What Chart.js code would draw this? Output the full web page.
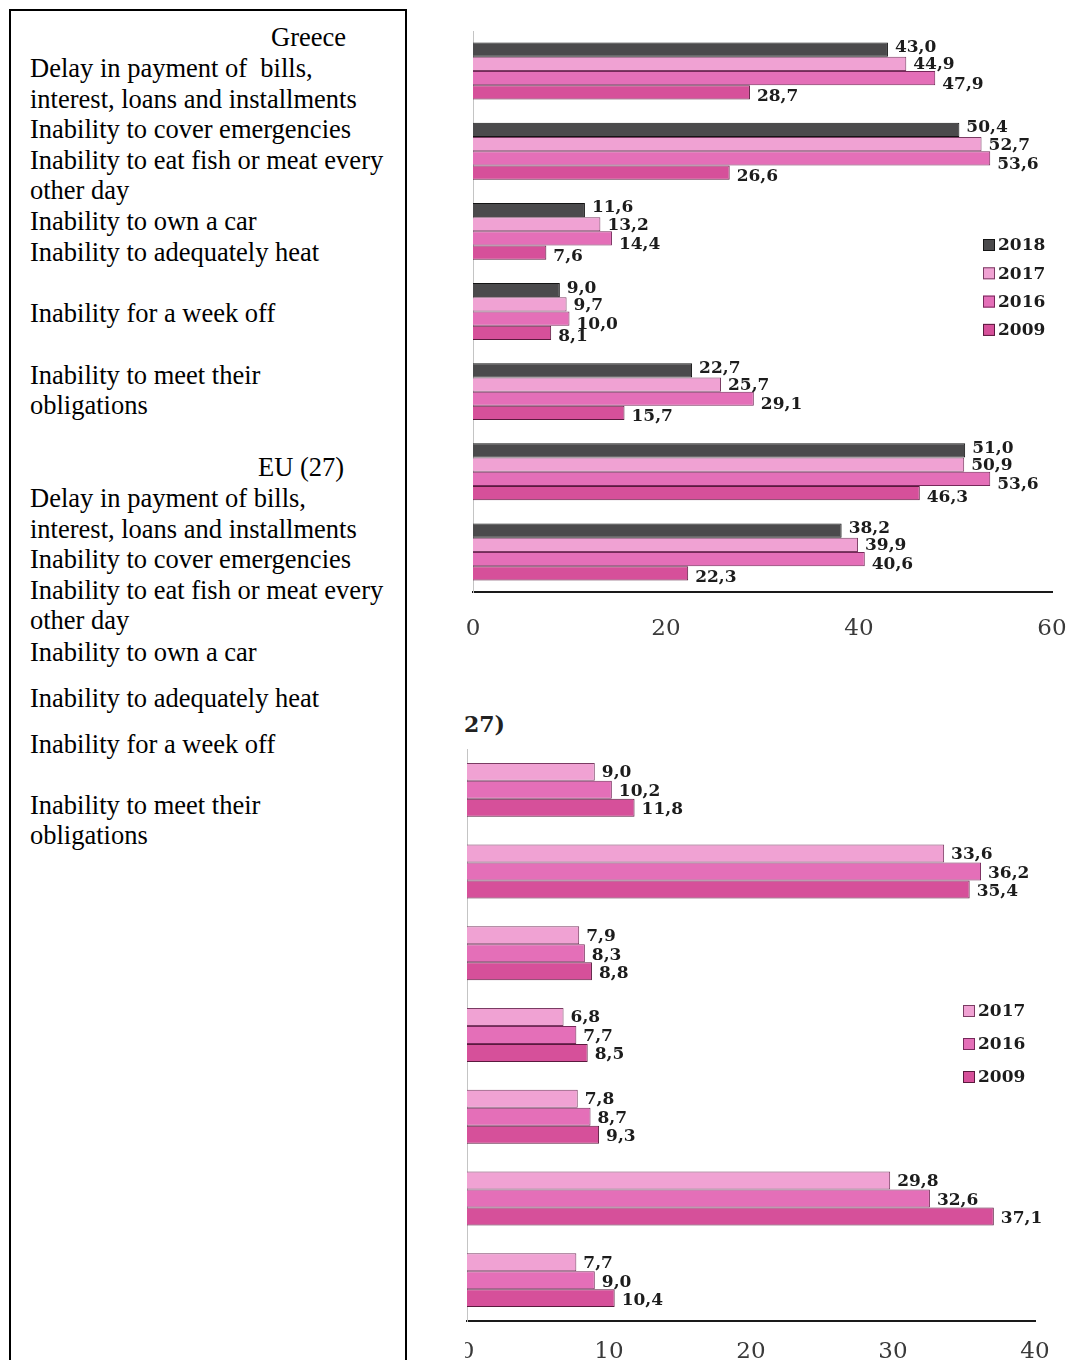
<!DOCTYPE html>
<html>
<head>
<meta charset="utf-8">
<script src="https://cdn.jsdelivr.net/npm/chart.js@4.4.0/dist/chart.umd.min.js"></script>
<style>
  html, body { margin: 0; padding: 0; background: #fff; }
  body { width: 1070px; height: 1360px; position: relative; overflow: hidden; }
  #notes {
    position: absolute; left: 9px; top: 9px; width: 394px; height: 1420px;
    border: 2px solid #000;
    font-family: "Liberation Serif", "Times New Roman", serif; font-size: 26.5px; color: #000;
  }
  #notes div { position: absolute; left: 19px; line-height: 0; white-space: pre; }
  #greece { position: absolute; left: 460px; top: 20px; }
  #euWrap { position: absolute; left: 465px; top: 740px; width: 605px; height: 621px; overflow: hidden; }
  #eu { position: absolute; left: -25px; top: 0; }
  #euTitle {
    position: absolute; left: 464px; top: 724px; line-height: 0;
    font-family: "DejaVu Serif", serif; font-weight: bold; font-size: 22px; color: #222;
  }
</style>
</head>
<body>
<div id="notes">
  <div style="top:26px; left:260px">Greece</div>
  <div style="top:57px">Delay in payment of  bills,</div>
  <div style="top:88px">interest, loans and installments</div>
  <div style="top:118px">Inability to cover emergencies</div>
  <div style="top:149px">Inability to eat fish or meat every</div>
  <div style="top:179px">other day</div>
  <div style="top:210px">Inability to own a car</div>
  <div style="top:241px">Inability to adequately heat</div>
  <div style="top:302px">Inability for a week off</div>
  <div style="top:364px">Inability to meet their</div>
  <div style="top:394px">obligations</div>

  <div style="top:456px; left:247px">EU (27)</div>
  <div style="top:487px">Delay in payment of bills,</div>
  <div style="top:518px">interest, loans and installments</div>
  <div style="top:548px">Inability to cover emergencies</div>
  <div style="top:579px">Inability to eat fish or meat every</div>
  <div style="top:609px">other day</div>
  <div style="top:641px">Inability to own a car</div>
  <div style="top:687px">Inability to adequately heat</div>
  <div style="top:733px">Inability for a week off</div>
  <div style="top:794px">Inability to meet their</div>
  <div style="top:824px">obligations</div>
</div>

<canvas id="greece" width="610" height="630"></canvas>
<div id="euTitle">27)</div>
<div id="euWrap"><canvas id="eu" width="630" height="621"></canvas></div>

<script>
const categories = [
  "Delay in payment of bills, interest, loans and installments",
  "Inability to cover emergencies",
  "Inability to eat fish or meat every other day",
  "Inability to own a car",
  "Inability to adequately heat",
  "Inability for a week off",
  "Inability to meet their obligations"
];

// Greece, % of households
const greece2018 = [43.0, 50.4, 11.6, 9.0, 22.7, 51.0, 38.2];
const greece2017 = [44.9, 52.7, 13.2, 9.7, 25.7, 50.9, 39.9];
const greece2016 = [47.9, 53.6, 14.4, 10.0, 29.1, 53.6, 40.6];
const greece2009 = [28.7, 26.6, 7.6, 8.1, 15.7, 46.3, 22.3];

// EU (27), % of households
const eu2017 = [9.0, 33.6, 7.9, 6.8, 7.8, 29.8, 7.7];
const eu2016 = [10.2, 36.2, 8.3, 7.7, 8.7, 32.6, 9.0];
const eu2009 = [11.8, 35.4, 8.8, 8.5, 9.3, 37.1, 10.4];

const greeceTicks = [0, 20, 40, 60];
const euTicks = [0, 10, 20, 30, 40];

const colors = {
  "2018": { bg: "#4b4a4c", border: "#141414" },
  "2017": { bg: "#f0a2d3", border: "#7a3c63" },
  "2016": { bg: "#e46fb8", border: "#76295a" },
  "2009": { bg: "#d6509a", border: "#5a1a3e" }
};

const serif = '"DejaVu Serif", serif';

function series(label, data) {
  return {
    label, data,
    backgroundColor: colors[label].bg,
    borderColor: colors[label].border,
    borderWidth: 1,
    borderSkipped: "start"
  };
}

// value next to the end of every bar, with a decimal comma
const valueLabels = {
  id: "valueLabels",
  afterDatasetsDraw(chart, args, opts) {
    const ctx = chart.ctx;
    const shift = opts.shift || [];
    ctx.save();
    ctx.font = "bold 17px " + serif;
    ctx.fillStyle = "#1c1c1c";
    ctx.textBaseline = "middle";
    chart.data.datasets.forEach((ds, i) => {
      chart.getDatasetMeta(i).data.forEach((bar, j) => {
        ctx.fillText(ds.data[j].toFixed(1).replace(".", ","), bar.x + 7, bar.y + 1 + (shift[i] || 0));
      });
    });
    ctx.restore();
  }
};

// small square legend sitting inside the plot area
const boxLegend = {
  id: "boxLegend",
  afterDraw(chart, args, opts) {
    const ctx = chart.ctx;
    ctx.save();
    ctx.font = "bold 17px " + serif;
    ctx.textBaseline = "middle";
    chart.data.datasets.forEach((ds, i) => {
      const y = opts.y + i * opts.gap;
      ctx.fillStyle = ds.backgroundColor;
      ctx.fillRect(opts.x, y - 6, 12, 12);
      ctx.strokeStyle = ds.borderColor;
      ctx.lineWidth = 1;
      ctx.strokeRect(opts.x + 0.5, y - 5.5, 11, 11);
      ctx.fillStyle = "#1c1c1c";
      ctx.fillText(ds.label, opts.x + 15, y + 1);
    });
    ctx.restore();
  }
};

function options(ticks, catPct, pad, axisH, tickLine, labelShift, legend) {
  return {
    indexAxis: "y",
    responsive: false,
    animation: false,
    devicePixelRatio: 1,
    layout: { padding: pad },
    datasets: { bar: { categoryPercentage: catPct, barPercentage: 1 } },
    plugins: {
      legend: { display: false },
      tooltip: { enabled: false },
      valueLabels: { shift: labelShift },
      boxLegend: legend
    },
    scales: {
      x: {
        min: ticks[0], max: ticks[ticks.length - 1],
        afterBuildTicks(s) { s.ticks = ticks.map(v => ({ value: v })); },
        ticks: { color: "#3a3a3a", font: { family: serif, size: 23, lineHeight: tickLine }, padding: 3, maxRotation: 0 },
        grid: { display: false, drawTicks: false },
        border: { display: true, color: "#1a1a1a", width: 2 },
        afterFit(s) { s.height = axisH; }
      },
      y: {
        ticks: { display: false },
        grid: { display: false, drawTicks: false },
        border: { display: true, color: "#c4c4c4", width: 1 },
        afterFit(s) { s.width = 0; }
      }
    }
  };
}

new Chart(document.getElementById("greece"), {
  type: "bar",
  data: {
    labels: categories,
    datasets: [
      series("2018", greece2018),
      series("2017", greece2017),
      series("2016", greece2016),
      series("2009", greece2009)
    ]
  },
  options: options(greeceTicks, 0.71, { left: 13, top: 11, right: 18, bottom: 0 }, 58, 3.0,
    [-3, 0, 5, 3], { x: 523, y: 225, gap: 28.3 }),
  plugins: [valueLabels, boxLegend]
});

new Chart(document.getElementById("eu"), {
  type: "bar",
  data: {
    labels: categories,
    datasets: [
      series("2017", eu2017),
      series("2016", eu2016),
      series("2009", eu2009)
    ]
  },
  options: options(euTicks, 0.66, { left: 27, top: 9, right: 35, bottom: 0 }, 40, 2.4,
    [0, 1, 1], { x: 523, y: 271, gap: 33 }),
  plugins: [valueLabels, boxLegend]
});
</script>
</body>
</html>
